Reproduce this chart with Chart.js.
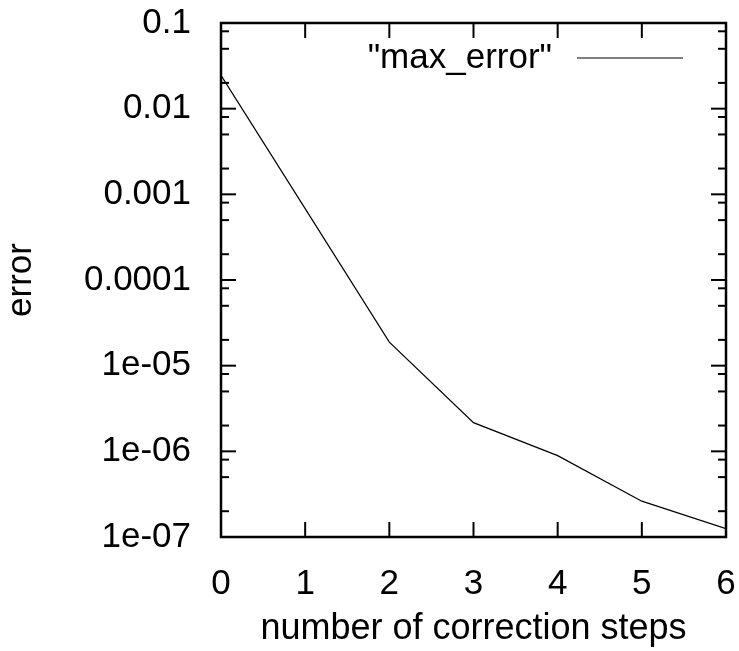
<!DOCTYPE html>
<html>
<head>
<meta charset="utf-8">
<script src="https://cdn.jsdelivr.net/npm/chart.js@4/dist/chart.umd.min.js"></script>
<style>
  html, body { margin: 0; padding: 0; background: #fff; }
  canvas { display: block; }
</style>
</head>
<body>
<canvas id="errorChart" width="739" height="651"></canvas>
<script>
// dados
const steps = [0, 1, 2, 3, 4, 5, 6];
const maxError = [0.0245, 6.8e-4, 1.88e-5, 2.16e-6, 8.9e-7, 2.62e-7, 1.25e-7];

const xTicks = [0, 1, 2, 3, 4, 5, 6];
const yTicks = [1e-7, 1e-6, 1e-5, 1e-4, 1e-3, 1e-2, 1e-1];
const yTickLabels = ['1e-07', '1e-06', '1e-05', '0.0001', '0.001', '0.01', '0.1'];
const yMinorFactors = [2, 5, 8];

const FONT = { family: '"Liberation Sans", Arial, sans-serif', size: 35 };
const TITLE_FONT = { family: '"Liberation Sans", Arial, sans-serif', size: 36 };

// moldura + marcas internas (estilo gnuplot) + legenda
const frameTicks = {
    id: 'frameTicks',
    afterDatasetsDraw(chart) {
        const { ctx, chartArea: a, scales: { x, y } } = chart;
        ctx.save();
        ctx.strokeStyle = '#000';
        ctx.lineWidth = 2;
        const seg = (x1, y1, x2, y2) => {
            ctx.beginPath();
            ctx.moveTo(x1, y1);
            ctx.lineTo(x2, y2);
            ctx.stroke();
        };

        xTicks.forEach(v => {
            const px = x.getPixelForValue(v);
            seg(px, a.bottom, px, a.bottom - 15);
            seg(px, a.top, px, a.top + 15);
        });

        yTicks.forEach(v => {
            const py = y.getPixelForValue(v);
            seg(a.left, py, a.left + 15, py);
            seg(a.right, py, a.right - 15, py);
            if (v < 0.1) {
                yMinorFactors.forEach(f => {
                    const pm = y.getPixelForValue(v * f);
                    seg(a.left, pm, a.left + 8, pm);
                    seg(a.right, pm, a.right - 8, pm);
                });
            }
        });

        ctx.lineWidth = 2.5;
        ctx.strokeRect(a.left, a.top, a.right - a.left, a.bottom - a.top);

        // legenda
        const ds = chart.data.datasets[0];
        ctx.font = FONT.size + 'px ' + FONT.family;
        ctx.fillStyle = '#000';
        ctx.textAlign = 'right';
        ctx.textBaseline = 'middle';
        ctx.fillText(ds.label, a.right - 174, a.top + 35);
        ctx.lineWidth = 1.2;
        ctx.strokeStyle = ds.borderColor;
        seg(a.right - 149, a.top + 35, a.right - 43, a.top + 35);
        ctx.restore();
    }
};

const ctx = document.getElementById('errorChart').getContext('2d');
const chart = new Chart(ctx, {
    type: 'line',
    data: {
        datasets: [{
            label: '"max_error"',
            data: steps.map((s, i) => ({ x: s, y: maxError[i] })),
            borderColor: '#000',
            borderWidth: 1.2,
            pointRadius: 0,
            tension: 0,
            fill: false
        }]
    },
    options: {
        responsive: false,
        animation: false,
        layout: {
            padding: { top: 23, right: 13, left: 0, bottom: 0 }
        },
        plugins: {
            legend: { display: false },
            tooltip: { enabled: false }
        },
        scales: {
            x: {
                type: 'linear',
                min: 0,
                max: 6,
                afterFit: s => {
                    s.height = 114;
                    s.paddingLeft = 0;
                    s.paddingRight = 0;
                },
                afterBuildTicks: s => { s.ticks = xTicks.map(v => ({ value: v })); },
                grid: { display: false },
                border: { display: false },
                ticks: {
                    color: '#000',
                    font: FONT,
                    padding: 18,
                    maxRotation: 0
                },
                title: {
                    display: true,
                    text: 'number of correction steps',
                    color: '#000',
                    font: TITLE_FONT,
                    padding: { top: 0, bottom: 0 }
                }
            },
            y: {
                type: 'logarithmic',
                min: 1e-7,
                max: 0.1,
                afterFit: s => {
                    s.width = 221;
                    s.paddingTop = 0;
                    s.paddingBottom = 0;
                },
                afterBuildTicks: s => { s.ticks = yTicks.map(v => ({ value: v })); },
                grid: { display: false },
                border: { display: false },
                ticks: {
                    color: '#000',
                    font: FONT,
                    padding: 22,
                    callback: (value, index) => yTickLabels[index]
                },
                title: {
                    display: true,
                    text: 'error',
                    color: '#000',
                    font: FONT,
                    padding: { top: 0, bottom: 0 }
                }
            }
        }
    },
    plugins: [frameTicks]
});
</script>
</body>
</html>
